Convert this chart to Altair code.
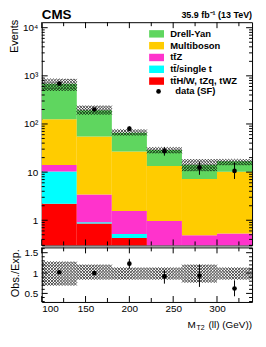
import altair as alt
import pandas as pd
import numpy as np

# ---------------- data ----------------
bin_lo = [100, 140, 180, 220, 260, 300]
bin_hi = [140, 180, 220, 260, 300, 340]

# stacked backgrounds, bottom -> top
proc_names = ["tt\u0304H/W, tZq, tWZ", "tt\u0304/single t", "tt\u0304Z", "Multiboson", "Drell-Yan"]
proc_colors = ["#ff0000", "#00ffff", "#ff33cc", "#ffcc00", "#5fd65f"]
ttH = [2.2, 0.86, 0.43, 0, 0, 0]
ttbar = [8.1, 0.05, 0.09, 0, 0, 0]
ttZ = [3.8, 2.5, 1.03, 0.97, 0.49, 0.53]
multiboson = [111, 51.6, 25.2, 12.5, 6.7, 9.6]
drellyan = [562, 138, 38.7, 15.3, 7.0, 6.7]

unc_rel = [0.27, 0.18, 0.16, 0.16, 0.23, 0.15]

data_obs = [690, 200, 80, 27.2, 12.5, 10.6]
data_lo = [665, 186, 71, 22, 8.8, 7.2]
data_hi = [717, 215, 89, 33, 16.5, 15.5]

ratio = [1.02, 1.0, 1.23, 0.92, 0.94, 0.62]
ratio_lo = [0.98, 0.95, 1.11, 0.74, 0.66, 0.43]
ratio_hi = [1.06, 1.05, 1.35, 1.08, 1.21, 0.82]

# axis ticks / labels
y_major = [1, 10, 100, 1000, 10000]
y_major_labels = ["1", "10", "10\u00b2", "10\u00b3", "10\u2074"]
y_minor = [m * 10.0 ** e for e in range(-1, 4) for m in range(2, 10)]
x_major = [100, 150, 200, 250, 300]
x_minor = [125, 175, 225, 275, 325]
r_major = [0.5, 1, 1.5]
r_minor = [0.3, 0.4, 0.6, 0.7, 0.8, 0.9, 1.1, 1.2, 1.3, 1.4, 1.6]

# ---------------- layout ----------------
W, H1, H2 = 212, 225, 55
Y_DOM = [0.3, 13000]
R_DOM = [0.29, 1.63]
X_DOM = [100, 340]
FONT = "Liberation Sans"

xs = alt.Scale(domain=X_DOM, nice=False, zero=False)
ys = alt.Scale(type="log", domain=Y_DOM, nice=False, clamp=True)
rs = alt.Scale(domain=R_DOM, nice=False, zero=False)

label_expr = " : ".join(
    f"datum.value == {v} ? '{l}'" for v, l in zip(y_major[:-1], y_major_labels[:-1])
) + f" : '{y_major_labels[-1]}'"

ax_y1 = alt.Axis(
    values=y_major, labelExpr=label_expr, ticks=False, domain=False, grid=False,
    labelPadding=4, labelFontSize=10, labelFont=FONT, labelColor="black",
    title="Events", titleFontSize=11, titleFontWeight="normal", titleFont=FONT,
    titleColor="black", titleX=-27, titleY=-3, titleAlign="right",
    titleBaseline="middle", titleAngle=270)
ax_x2 = alt.Axis(
    values=x_major, ticks=False, domain=False, grid=False, labelPadding=2,
    labelFontSize=10, labelFont=FONT, labelColor="black", title=None)
ax_r = alt.Axis(
    values=r_major, format="~g", ticks=False, domain=False, grid=False,
    labelPadding=4, labelFontSize=10, labelFont=FONT, labelColor="black",
    title="Obs./Exp.", titleFontSize=11, titleFontWeight="normal", titleFont=FONT,
    titleColor="black", titleX=-26, titleY=H2 / 2 - 2, titleAlign="center",
    titleBaseline="middle", titleAngle=270)

# stacked table
comps = [ttH, ttbar, ttZ, multiboson, drellyan]
rows = []
for i in range(6):
    base = 0.0
    for p, vals in enumerate(comps):
        v = vals[i]
        if v > 0:
            rows.append(dict(lo=bin_lo[i], hi=bin_hi[i], y0=max(base, 1e-3), y1=base + v,
                             proc=proc_names[p]))
        base += v
stack_df = pd.DataFrame(rows)
totals = [sum(c[i] for c in comps) for i in range(6)]

# hatch lattice (decoration derived from the uncertainty band)
ncol = 12
dx = 40 / ncol
dec_per_px = (np.log10(Y_DOM[1]) - np.log10(Y_DOM[0])) / H1
step_log = 3 * dec_per_px
step_r = 3 * (R_DOM[1] - R_DOM[0]) / H2
hu, hr = [], []
for i in range(6):
    lo_l = np.log10(totals[i] * (1 - unc_rel[i]))
    hi_l = np.log10(totals[i] * (1 + unc_rel[i]))
    rl, rh = 1 - unc_rel[i], 1 + unc_rel[i]
    for k in range(ncol):
        x = bin_lo[i] + (k + 0.5) * dx
        for m in range(int(np.ceil(lo_l / step_log)), int(np.floor(hi_l / step_log)) + 1):
            hu.append(dict(x=x, y=10 ** (m * step_log)))
        for m in range(int(np.ceil(rl / step_r)), int(np.floor(rh / step_r)) + 1):
            hr.append(dict(x=x, y=m * step_r))
hatch_up = pd.DataFrame(hu)
hatch_r = pd.DataFrame(hr)

centers = [(a + b) / 2 for a, b in zip(bin_lo, bin_hi)]
data_df = pd.DataFrame(dict(x=centers, y=data_obs, lo=data_lo, hi=data_hi, lab=["data (SF)"] * 6))
ratio_df = pd.DataFrame(dict(x=centers, y=ratio, lo=ratio_lo, hi=ratio_hi))

XPATH = "M-1,-1L1,1M-1,1L1,-1"
RECT = "M-2,-1H2V1H-2Z"


def yticks(vals, scale, axis, length, w):
    df = pd.DataFrame(dict(v=vals))
    left = alt.Chart(df).mark_rule(color="black", strokeWidth=1).encode(
        y=alt.Y("v:Q", scale=scale, axis=axis), x=alt.value(0), x2=alt.value(length))
    right = alt.Chart(df).mark_rule(color="black", strokeWidth=1).encode(
        y=alt.Y("v:Q", scale=scale, axis=axis), x=alt.value(w), x2=alt.value(w - length))
    return [left, right]


def xticks(vals, axis, length, h):
    df = pd.DataFrame(dict(v=vals))
    bot = alt.Chart(df).mark_rule(color="black", strokeWidth=1).encode(
        x=alt.X("v:Q", scale=xs, axis=axis), y=alt.value(h), y2=alt.value(h - length))
    top = alt.Chart(df).mark_rule(color="black", strokeWidth=1).encode(
        x=alt.X("v:Q", scale=xs, axis=axis), y=alt.value(0), y2=alt.value(length))
    return [bot, top]


stack = alt.Chart(stack_df).mark_rect(clip=True).encode(
    x=alt.X("lo:Q", scale=xs, axis=None),
    x2="hi:Q",
    y=alt.Y("y0:Q", scale=ys, axis=ax_y1),
    y2="y1:Q",
    color=alt.Color("proc:N", scale=alt.Scale(domain=proc_names[::-1], range=proc_colors[::-1]),
                    legend=alt.Legend(
                        orient="none", legendX=111, legendY=7, title=None,
                        symbolType=RECT, symbolSize=56, symbolStrokeWidth=0,
                        labelFontSize=9.5, labelFontWeight="bold", labelFont=FONT,
                        labelColor="black", labelOffset=9, rowPadding=0.9, labelLimit=200)),
)

hatch1 = alt.Chart(hatch_up).mark_point(shape=XPATH, filled=False, stroke="black",
                                        strokeWidth=0.95, size=9, clip=True).encode(
    x=alt.X("x:Q", scale=xs, axis=None), y=alt.Y("y:Q", scale=ys, axis=ax_y1))

err1 = alt.Chart(data_df).mark_rule(color="black", strokeWidth=1).encode(
    x=alt.X("x:Q", scale=xs, axis=None), y=alt.Y("lo:Q", scale=ys, axis=ax_y1), y2="hi:Q")
pts1 = alt.Chart(data_df).mark_point(filled=True, color="black", size=22, opacity=1).encode(
    x=alt.X("x:Q", scale=xs, axis=None), y=alt.Y("y:Q", scale=ys, axis=ax_y1),
    shape=alt.Shape("lab:N", scale=alt.Scale(range=["circle"]),
                    legend=alt.Legend(orient="none", legendX=113, legendY=65, title=None,
                                      symbolFillColor="black", symbolStrokeColor="black",
                                      symbolSize=22, labelFontSize=9.5,
                                      labelFontWeight="bold", labelFont=FONT,
                                      labelColor="black", labelOffset=12)))

cms = alt.Chart(pd.DataFrame(dict(t=["CMS"]))).mark_text(
    align="left", baseline="alphabetic", fontSize=13.5, fontWeight="bold", font=FONT,
    color="black").encode(text="t:N", x=alt.value(0), y=alt.value(-3.5))
lumi = alt.Chart(pd.DataFrame(dict(t=["35.9 fb\u207b\u00b9 (13 TeV)"]))).mark_text(
    align="right", baseline="alphabetic", fontSize=9, fontWeight="bold", font=FONT,
    color="black").encode(text="t:N", x=alt.value(W), y=alt.value(-4))

upper = alt.layer(
    stack, hatch1, err1, pts1,
    *yticks(y_major, ys, ax_y1, 6, W), *yticks(y_minor, ys, ax_y1, 3, W),
    *xticks(x_major, None, 6, H1), *xticks(x_minor, None, 4, H1),
    cms, lumi,
).properties(width=W, height=H1)

hatch2 = alt.Chart(hatch_r).mark_point(shape=XPATH, filled=False, stroke="black",
                                       strokeWidth=0.95, size=9, clip=True).encode(
    x=alt.X("x:Q", scale=xs, axis=ax_x2),
    y=alt.Y("y:Q", scale=rs, axis=ax_r))
err2 = alt.Chart(ratio_df).mark_rule(color="black", strokeWidth=1).encode(
    x=alt.X("x:Q", scale=xs, axis=ax_x2), y=alt.Y("lo:Q", scale=rs, axis=ax_r), y2="hi:Q")
pts2 = alt.Chart(ratio_df).mark_point(filled=True, color="black", size=22, opacity=1).encode(
    x=alt.X("x:Q", scale=xs, axis=ax_x2), y=alt.Y("y:Q", scale=rs, axis=ax_r))

t_main = alt.Chart(pd.DataFrame(dict(t=["(ll) (GeV))"]))).mark_text(
    align="right", baseline="alphabetic", fontSize=10, font=FONT, color="black").encode(
    text="t:N", x=alt.value(W), y=alt.value(H2 + 26))
t_m = alt.Chart(pd.DataFrame(dict(t=["M"]))).mark_text(
    align="left", baseline="alphabetic", fontSize=10, font=FONT, color="black").encode(
    text="t:N", x=alt.value(147), y=alt.value(H2 + 26))
t_sub = alt.Chart(pd.DataFrame(dict(t=["T2"]))).mark_text(
    align="left", baseline="alphabetic", fontSize=7, font=FONT, color="black").encode(
    text="t:N", x=alt.value(156), y=alt.value(H2 + 28))

lower = alt.layer(
    hatch2, err2, pts2,
    *yticks(r_major, rs, ax_r, 6, W), *yticks(r_minor, rs, ax_r, 3, W),
    *xticks(x_major, ax_x2, 6, H2), *xticks(x_minor, ax_x2, 4, H2),
    t_main, t_m, t_sub,
).properties(width=W, height=H2)

chart = alt.vconcat(upper, lower, spacing=0).properties(
    padding={"left": 0, "top": -2, "right": 5, "bottom": 5}
).configure(font=FONT).configure_view(stroke="black", strokeWidth=1)

chart.save("out.html", embed_options={"renderer": "svg", "actions": False})
